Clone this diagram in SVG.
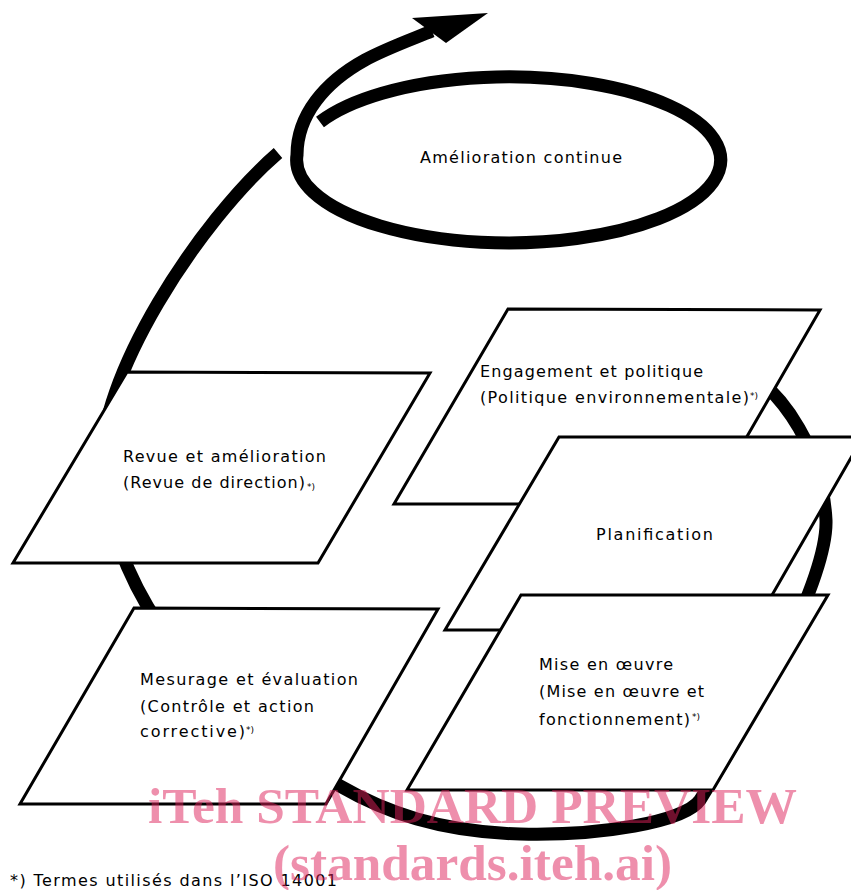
<svg xmlns="http://www.w3.org/2000/svg" width="851" height="890" viewBox="0 0 851 890">
<style>
.box{fill:#fff;stroke:#000;stroke-width:3;stroke-linejoin:miter}
.band{fill:none;stroke:#000;stroke-width:13}
.t{font-family:"DejaVu Sans","Liberation Sans",sans-serif;font-size:16px;fill:#000}
.sup{font-family:"DejaVu Sans","Liberation Sans",sans-serif;font-size:9px;fill:#000}
.wm{font-family:"Liberation Serif","Times New Roman",serif;font-weight:bold;font-size:51px;fill:#dd1f5a;fill-opacity:0.5}
</style>
<rect width="851" height="890" fill="#fff"/>
<g id="connectors">
  <path class="band" d="M745 370 C785 395 822 450 826 520 C828 580 750 720 700 800 C685 822 600 836 520 834 C440 832 385 812 340 786 C230 722 118 620 102 470 C95 380 200 220 278 153"/>
  <path class="band" d="M320 122 A212 83 0 1 1 297 155 C297 115 325 82 365 60 C385 49 410 40 432 31"/>
  <polygon points="412,18 488,13 446,43" fill="#000"/>
</g>
<g id="amelioration">
  <text class="t" x="420" y="163" textLength="202" lengthAdjust="spacing">Amélioration continue</text>
</g>
<g id="engagement">
  <polygon class="box" points="508,309 820,310 708,504 394,504"/>
  <text class="t" x="480" y="377" textLength="223" lengthAdjust="spacing">Engagement et politique</text>
  <text class="t" x="480" y="403" textLength="269" lengthAdjust="spacing">(Politique environnementale)</text>
  <text class="sup" x="750" y="399">*)</text>
</g>
<g id="planification">
  <polygon class="box" points="559,437 863,437 752,630 445,630"/>
  <text class="t" x="596" y="540" textLength="117" lengthAdjust="spacing">Planification</text>
</g>
<g id="mise">
  <polygon class="box" points="521,595 828,595 713,790 407,790"/>
  <text class="t" x="539" y="670" textLength="134" lengthAdjust="spacing">Mise en œuvre</text>
  <text class="t" x="539" y="697" textLength="165" lengthAdjust="spacing">(Mise en œuvre et</text>
  <text class="t" x="539" y="725" textLength="151" lengthAdjust="spacing">fonctionnement)</text>
  <text class="sup" x="692" y="720">*)</text>
</g>
<g id="revue">
  <polygon class="box" points="127,372 430,373 318,563 13,563"/>
  <text class="t" x="123" y="462" textLength="203" lengthAdjust="spacing">Revue et amélioration</text>
  <text class="t" x="123" y="488" textLength="182" lengthAdjust="spacing">(Revue de direction)</text>
  <text class="sup" x="307" y="490">*)</text>
</g>
<g id="mesurage">
  <polygon class="box" points="134,608 438,609 326,804 20,804"/>
  <text class="t" x="140" y="685" textLength="218" lengthAdjust="spacing">Mesurage et évaluation</text>
  <text class="t" x="140" y="712" textLength="174" lengthAdjust="spacing">(Contrôle et action</text>
  <text class="t" x="140" y="737" textLength="105" lengthAdjust="spacing">corrective)</text>
  <text class="sup" x="246" y="733">*)</text>
</g>
<g id="footnote">
  <text class="t" x="10" y="886" textLength="327" lengthAdjust="spacing">*) Termes utilisés dans l’ISO 14001</text>
</g>
<g id="watermark">
  <text class="wm" x="148" y="823" textLength="649" lengthAdjust="spacingAndGlyphs">iTeh STANDARD PREVIEW</text>
  <text class="wm" x="273" y="880" textLength="399" lengthAdjust="spacingAndGlyphs">(standards.iteh.ai)</text>
</g>
</svg>
